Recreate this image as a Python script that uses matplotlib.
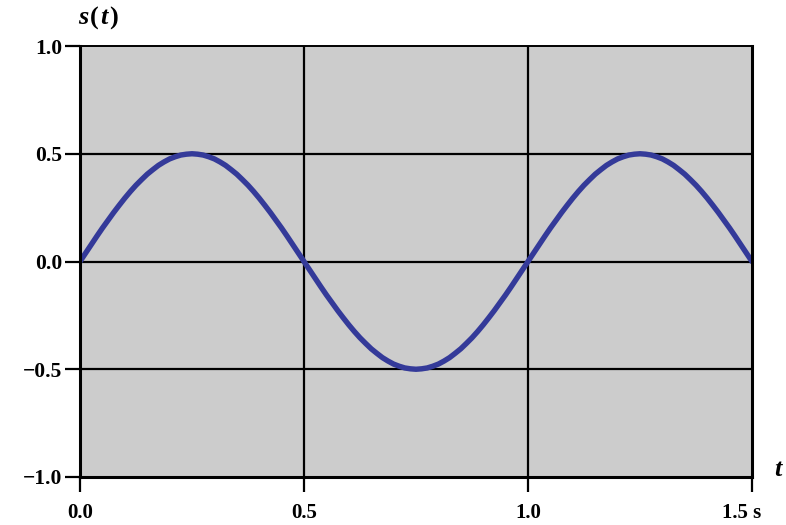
import matplotlib
matplotlib.use("Agg")
import matplotlib.pyplot as plt
from matplotlib.offsetbox import TextArea, HPacker, AnchoredOffsetbox
from matplotlib.transforms import ScaledTranslation

# t values in seconds
t_values = [0.0000, 0.0125, 0.0250, 0.0375, 0.0500, 0.0625, 0.0750, 0.0875, 0.1000, 0.1125,
            0.1250, 0.1375, 0.1500, 0.1625, 0.1750, 0.1875, 0.2000, 0.2125, 0.2250, 0.2375, 0.2500,
            0.2625, 0.2750, 0.2875, 0.3000, 0.3125, 0.3250, 0.3375, 0.3500, 0.3625, 0.3750,
            0.3875, 0.4000, 0.4125, 0.4250, 0.4375, 0.4500, 0.4625, 0.4750, 0.4875, 0.5000,
            0.5125, 0.5250, 0.5375, 0.5500, 0.5625, 0.5750, 0.5875, 0.6000, 0.6125, 0.6250,
            0.6375, 0.6500, 0.6625, 0.6750, 0.6875, 0.7000, 0.7125, 0.7250, 0.7375, 0.7500,
            0.7625, 0.7750, 0.7875, 0.8000, 0.8125, 0.8250, 0.8375, 0.8500, 0.8625, 0.8750,
            0.8875, 0.9000, 0.9125, 0.9250, 0.9375, 0.9500, 0.9625, 0.9750, 0.9875, 1.0000,
            1.0125, 1.0250, 1.0375, 1.0500, 1.0625, 1.0750, 1.0875, 1.1000, 1.1125, 1.1250,
            1.1375, 1.1500, 1.1625, 1.1750, 1.1875, 1.2000, 1.2125, 1.2250, 1.2375, 1.2500,
            1.2625, 1.2750, 1.2875, 1.3000, 1.3125, 1.3250, 1.3375, 1.3500, 1.3625, 1.3750,
            1.3875, 1.4000, 1.4125, 1.4250, 1.4375, 1.4500, 1.4625, 1.4750, 1.4875, 1.5000]
s_values = [0.000, 0.039, 0.078, 0.117, 0.155, 0.191, 0.227, 0.261, 0.294, 0.325,
            0.354, 0.380, 0.405, 0.426, 0.446, 0.462, 0.476, 0.486, 0.494, 0.498, 0.500,
            0.498, 0.494, 0.486, 0.476, 0.462, 0.446, 0.426, 0.405, 0.380, 0.354,
            0.325, 0.294, 0.261, 0.227, 0.191, 0.155, 0.117, 0.078, 0.039, 0.000,
            -0.039, -0.078, -0.117, -0.155, -0.191, -0.227, -0.261, -0.294, -0.325, -0.354,
            -0.380, -0.405, -0.426, -0.446, -0.462, -0.476, -0.486, -0.494, -0.498, -0.500,
            -0.498, -0.494, -0.486, -0.476, -0.462, -0.446, -0.426, -0.405, -0.380, -0.354,
            -0.325, -0.294, -0.261, -0.227, -0.191, -0.155, -0.117, -0.078, -0.039, 0.000,
            0.039, 0.078, 0.117, 0.155, 0.191, 0.227, 0.261, 0.294, 0.325, 0.354,
            0.380, 0.405, 0.426, 0.446, 0.462, 0.476, 0.486, 0.494, 0.498, 0.500,
            0.498, 0.494, 0.486, 0.476, 0.462, 0.446, 0.426, 0.405, 0.380, 0.354,
            0.325, 0.294, 0.261, 0.227, 0.191, 0.155, 0.117, 0.078, 0.039, 0.000]

x_ticks = [0.0, 0.5, 1.0, 1.5]
x_tick_labels = ["0.0", "0.5", "1.0", "1.5 s"]
y_ticks = [-1.0, -0.5, 0.0, 0.5, 1.0]
y_tick_labels = ["\u22121.0", "\u22120.5", "0.0", "0.5", "1.0"]

plt.rcParams['font.family'] = ['Liberation Serif', 'DejaVu Serif']

fig = plt.figure(figsize=(7.86, 5.25), dpi=100)
ax = fig.add_axes([80/786, 1 - 477/525, (752-80)/786, (477-46)/525])
ax.set_facecolor('#cccccc')

ax.set_xlim(0, 1.5)
ax.set_ylim(-1.0, 1.0)

for x in [0.5, 1.0]:
    ax.axvline(x, color='black', lw=1.6, zorder=1)
for y in [-0.5, 0.0, 0.5]:
    ax.axhline(y, color='black', lw=1.6, zorder=1)

ax.plot(t_values, s_values, color='#343a99', lw=3.9, solid_capstyle='round',
        solid_joinstyle='round', zorder=3)

ax.set_xticks(x_ticks)
ax.set_xticklabels(x_tick_labels, fontweight='bold', fontsize=15)
ax.set_yticks(y_ticks)
ax.set_yticklabels(y_tick_labels, fontweight='bold', fontsize=15.5)
ax.tick_params(axis='both', direction='out', length=11, width=1.6, color='black')
ax.tick_params(axis='y', pad=2)
ax.tick_params(axis='x', pad=8)

ax.spines['left'].set_linewidth(2.2)
ax.spines['bottom'].set_linewidth(2.2)
ax.spines['top'].set_linewidth(1.4)
ax.spines['right'].set_linewidth(2.2)
for sp in ax.spines.values():
    sp.set_zorder(4)

# "1.5 s": shifted left like in the reference
labels = ax.get_xticklabels()
labels[-1].set_horizontalalignment('left')
labels[-1].set_transform(labels[-1].get_transform() + ScaledTranslation(-21.5/72, 0, fig.dpi_scale_trans))

# y-axis title s(t)
parts = [TextArea("s", textprops=dict(fontsize=19, fontweight='bold', fontstyle='italic')),
         TextArea("(", textprops=dict(fontsize=19, fontweight='bold')),
         TextArea("t", textprops=dict(fontsize=19, fontweight='bold', fontstyle='italic')),
         TextArea(")", textprops=dict(fontsize=19, fontweight='bold'))]
box = HPacker(children=parts, align="baseline", pad=0, sep=1)
anch = AnchoredOffsetbox(loc='center', child=box, frameon=False, pad=0, borderpad=0,
                         bbox_to_anchor=(98/786, 1 - 18/525), bbox_transform=fig.transFigure)
fig.add_artist(anch)

fig.text(778/786, 1 - 469/525, "t", fontsize=19, fontweight='bold', fontstyle='italic',
         ha='center', va='center')

fig.savefig("out.png", dpi=100)
